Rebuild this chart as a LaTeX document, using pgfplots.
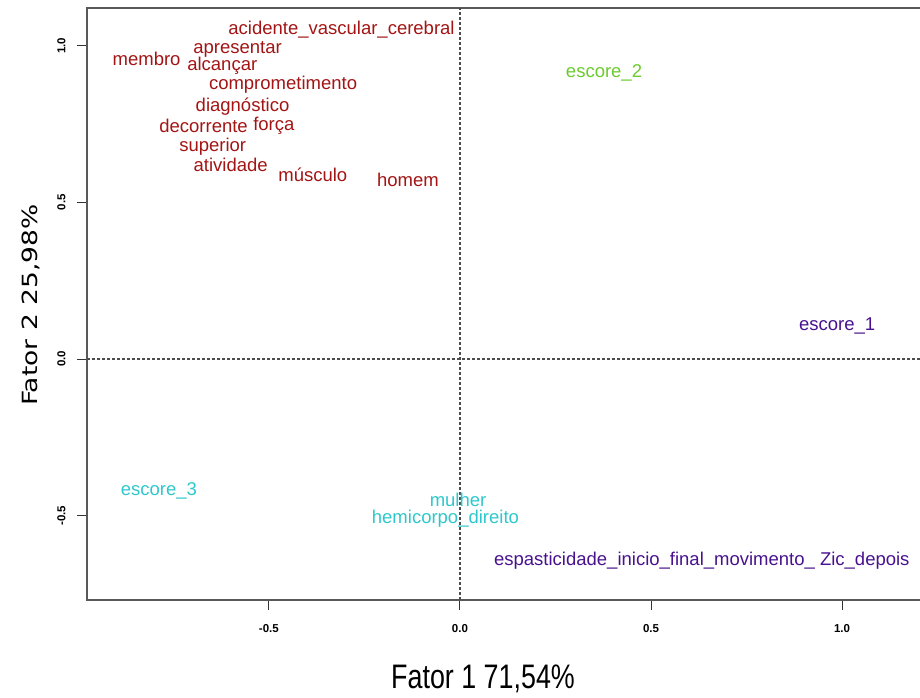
\documentclass[border=0pt]{standalone}
\usepackage{fontspec}
\setmainfont{Liberation Sans}
\newfontfamily\dejavu{DejaVu Sans}
\usepackage{pgfplots}
\pgfplotsset{compat=1.18}
\definecolor{cred}{HTML}{A31414}
\definecolor{cgreen}{HTML}{6CCB2E}
\definecolor{ccyan}{HTML}{2EC8CC}
\definecolor{cpurple}{HTML}{48128E}
\pgfplotsset{lab/.style={draw=none, mark=none, nodes near coords, point meta=explicit symbolic,
  nodes near coords style={anchor=base, inner sep=0pt, text=#1, font=\fontsize{18.5}{20}\selectfont}}}
\begin{document}
\begin{tikzpicture}
\begin{axis}[
  at={(87pt,97pt)}, anchor=south west,
  scale only axis, width=838pt, height=592pt,
  xmin=-0.976, xmax=1.217, ymin=-0.769, ymax=1.12,
  axis line style={line width=1.6pt, black!65},
  xtick={-0.5,0,0.5,1}, xticklabels={-0.5,0.0,0.5,1.0},
  ytick={-0.5,0,0.5,1}, yticklabels={-0.5,0.0,0.5,1.0},
  tick pos=left, tick align=outside, major tick length=10pt,
  tick style={line width=1pt, black!80},
  tick label style={font=\bfseries\fontsize{11.5}{13}\selectfont},
  xticklabel style={yshift=-11pt},
  yticklabel style={xshift=-8pt, rotate=90, anchor=south},
  xlabel={Fator 1 71,54\%},
  ylabel={Fator 2 25,98\%},
  every axis x label/.style={at={(axis description cs:0.4726,-0.1503)}, anchor=base, xscale=0.79, font=\fontsize{34}{36}\selectfont},
  every axis y label/.style={at={(axis description cs:-0.0585,0.498)}, anchor=base, rotate=90, yscale=0.79, font=\dejavu\fontsize{26.5}{28}\selectfont},
  clip=true,
]
\addplot[dash pattern=on 3pt off 2pt, line width=1.2pt, black!70, forget plot] coordinates {(0,-0.769) (0,1.12)};
\addplot[dash pattern=on 3pt off 2pt, line width=1.2pt, black!70, forget plot] coordinates {(-0.976,0) (1.217,0)};
\addplot[lab=cred] coordinates {
(-0.310,1.037) [acidente\_vascular\_cerebral]
(-0.582,0.975) [apresentar]
(-0.820,0.938) [membro]
(-0.622,0.920) [alcançar]
(-0.463,0.860) [comprometimento]
(-0.569,0.791) [diagnóstico]
(-0.671,0.722) [decorrente]
(-0.487,0.730) [força]
(-0.647,0.663) [superior]
(-0.600,0.597) [atividade]
(-0.385,0.566) [músculo]
(-0.136,0.550) [homem]
};
\addplot[lab=cgreen] coordinates {
(0.377,0.898) [escore\_2]
};
\addplot[lab=cpurple] coordinates {
(0.987,0.0925) [escore\_1]
(0.633,-0.659) [espasticidade\_inicio\_final\_movimento\_ Zic\_depois]
};
\addplot[lab=ccyan] coordinates {
(-0.788,-0.434) [escore\_3]
(-0.005,-0.470) [mulher]
(-0.038,-0.525) [hemicorpo\_direito]
};
\end{axis}
\pgfresetboundingbox
\useasboundingbox (0,0) rectangle (920pt,697pt);
\end{tikzpicture}
\end{document}
